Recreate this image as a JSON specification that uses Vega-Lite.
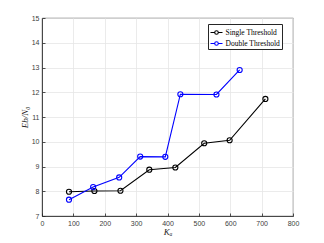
{
  "$schema": "https://vega.github.io/schema/vega-lite/v6.json",
  "width": 251,
  "height": 198,
  "autosize": {"type": "none"},
  "padding": {"left": 42, "top": 18, "right": 31, "bottom": 27},
  "background": "white",
  "config": {
    "view": {"stroke": "#262626", "strokeWidth": 0.8},
    "axis": {
      "grid": true,
      "gridColor": "#e6e6e6",
      "gridWidth": 0.8,
      "domainColor": "#262626",
      "domainWidth": 0.8,
      "tickColor": "#262626",
      "tickSize": -3,
      "tickWidth": 0.8,
      "labelColor": "#404040",
      "labelFont": "Liberation Sans",
      "labelFontSize": 7,
      "labelFlush": false,
      "titleFont": "Liberation Serif",
      "titleFontStyle": "italic",
      "titleFontWeight": "normal",
      "titleFontSize": 9,
      "titleColor": "#262626"
    }
  },
  "data": {
    "values": [
      {"Ka": 86, "EbN0": 7.98, "Scheme": "Single Threshold"},
      {"Ka": 167, "EbN0": 8.01, "Scheme": "Single Threshold"},
      {"Ka": 250, "EbN0": 8.02, "Scheme": "Single Threshold"},
      {"Ka": 342, "EbN0": 8.87, "Scheme": "Single Threshold"},
      {"Ka": 425, "EbN0": 8.96, "Scheme": "Single Threshold"},
      {"Ka": 517, "EbN0": 9.94, "Scheme": "Single Threshold"},
      {"Ka": 598, "EbN0": 10.06, "Scheme": "Single Threshold"},
      {"Ka": 712, "EbN0": 11.73, "Scheme": "Single Threshold"},
      {"Ka": 86, "EbN0": 7.66, "Scheme": "Double Threshold"},
      {"Ka": 163, "EbN0": 8.17, "Scheme": "Double Threshold"},
      {"Ka": 246, "EbN0": 8.56, "Scheme": "Double Threshold"},
      {"Ka": 313, "EbN0": 9.4, "Scheme": "Double Threshold"},
      {"Ka": 393, "EbN0": 9.39, "Scheme": "Double Threshold"},
      {"Ka": 441, "EbN0": 11.92, "Scheme": "Double Threshold"},
      {"Ka": 556, "EbN0": 11.91, "Scheme": "Double Threshold"},
      {"Ka": 630, "EbN0": 12.9, "Scheme": "Double Threshold"}
    ]
  },
  "mark": {
    "type": "line",
    "strokeWidth": 1.1,
    "point": {"filled": false, "size": 26, "strokeWidth": 1.1}
  },
  "encoding": {
    "x": {
      "field": "Ka",
      "type": "quantitative",
      "scale": {"domain": [0, 800], "nice": false},
      "axis": {"values": [0, 100, 200, 300, 400, 500, 600, 700, 800], "title": "Kₐ", "labelPadding": 6, "titlePadding": 1}
    },
    "y": {
      "field": "EbN0",
      "type": "quantitative",
      "scale": {"domain": [7, 15], "nice": false, "zero": false},
      "axis": {"values": [7, 8, 9, 10, 11, 12, 13, 14, 15], "title": "Eb/N₀", "labelPadding": 6, "titlePadding": 2}
    },
    "color": {
      "field": "Scheme",
      "type": "nominal",
      "sort": ["Single Threshold", "Double Threshold"],
      "scale": {"domain": ["Single Threshold", "Double Threshold"], "range": ["#000000", "#0000ff"]},
      "legend": {
        "title": null,
        "orient": "none",
        "legendX": 166,
        "legendY": 6,
        "fillColor": "white",
        "strokeColor": "#262626",
        "padding": 1.5,
        "rowPadding": 0,
        "symbolType": "M-1,0H-0.3A0.3,0.3 0 1,1 0.3,0A0.3,0.3 0 1,1 -0.3,0M0.3,0H1",
        "symbolSize": 144,
        "symbolStrokeWidth": 1.1,
        "symbolFillColor": "transparent",
        "labelFont": "Liberation Serif",
        "labelFontSize": 7.5,
        "labelFontWeight": "normal",
        "labelColor": "#000000",
        "labelOffset": 2
      }
    }
  }
}
